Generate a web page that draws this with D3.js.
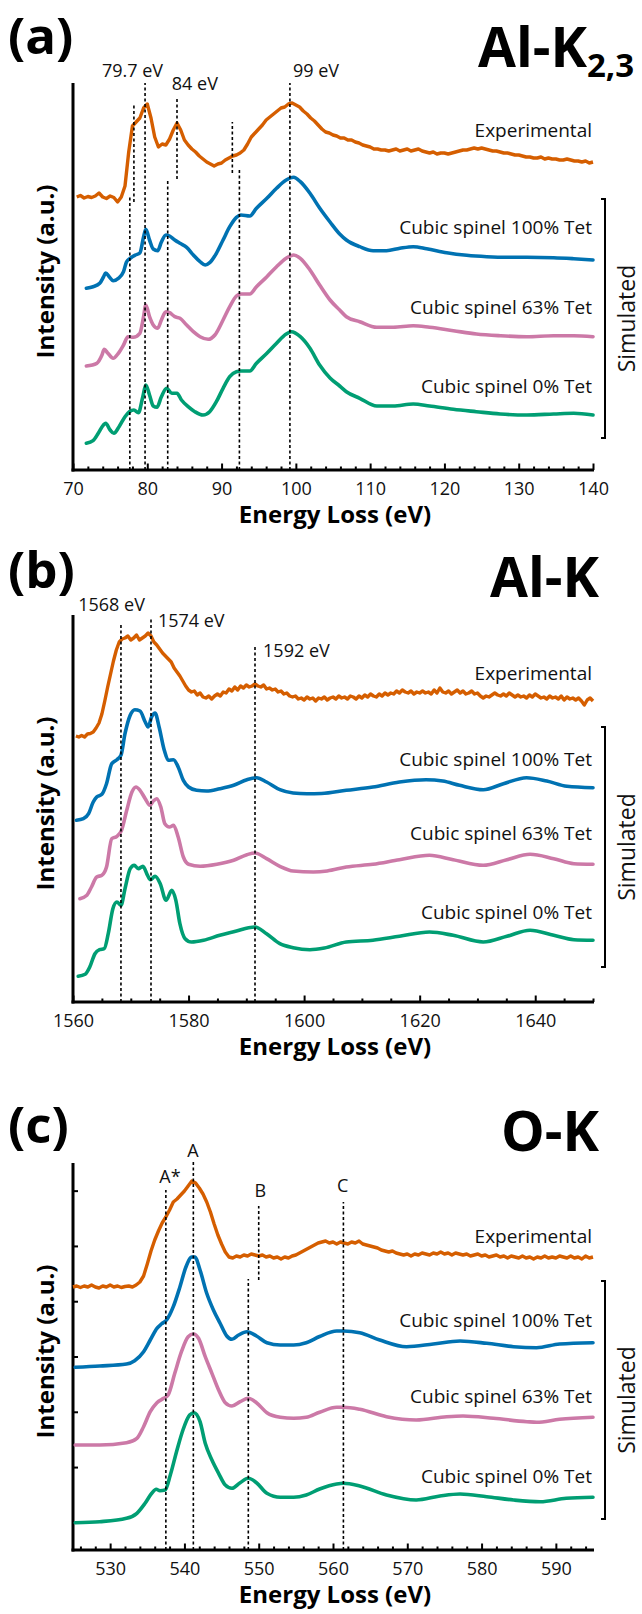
<!DOCTYPE html>
<html>
<head>
<meta charset="utf-8">
<script src="https://cdn.jsdelivr.net/npm/d3@7"></script>
<style>
  body { margin: 0; background: #fff; }
  svg { font-family: "Open Sans", sans-serif; }
</style>
</head>
<body>
<div class="figura"></div>
<script>
const width = 642, height = 1614;
const plotLeft = 73, plotRight = 593, plotH = 387;

const seriesNames = ["Experimental", "Cubic spinel 100% Tet", "Cubic spinel 63% Tet", "Cubic spinel 0% Tet"];
const seriesColors = ["#D55E00", "#0072B2", "#CC79A7", "#009E73"];

// ---------- (a) Al-K2,3 ----------
const aTicks = [70, 80, 90, 100, 110, 120, 130, 140];
const aExpStart = 70.5;
const aExp = [
  273, 274.5, 272, 273.5, 272.5, 274, 277, 273, 271.5, 274,
  272.5, 268, 273, 284, 318, 344, 348, 352, 362, 366,
  352, 333, 323, 326, 325, 331, 340, 347, 340, 330,
  325, 321, 318, 314, 311, 308, 306, 304, 306, 307,
  310, 312, 314, 315, 317, 320, 326, 333, 337, 341,
  345, 350, 353, 356, 359, 362, 363, 366, 367, 365,
  363, 359, 356, 352, 349, 345, 341, 338, 337, 335,
  334, 332, 332, 330, 330, 328, 327, 325, 324, 323,
  321, 321, 320, 320, 319, 320, 321, 319, 320, 321,
  319, 320, 321, 319, 318, 317, 318, 316, 317, 317,
  316, 317, 318, 319, 320, 320, 321, 322, 321, 322,
  321, 320, 319, 319, 318, 317, 317, 316, 315, 315,
  314, 313, 313, 312, 312, 313, 311, 312, 311, 311,
  310, 310, 311, 310, 309, 309, 308, 309, 307, 308
];
const aTet100 = [[71.8,181.7],[72.7,183.3],[73.6,186.7],[74.1,193],[74.4,197],[74.9,193],[75.4,189.3],[76.1,191.7],[76.8,198.3],[77.2,208],[77.7,211.7],[78.4,215],[79.0,217],[79.5,233],[79.8,240.7],[80.3,230],[80.8,221],[81.4,219.3],[81.9,228],[82.5,235],[83.0,234],[83.7,230],[84.4,226.7],[85.3,222.7],[86.2,215],[87.1,208.3],[87.8,205],[88.4,207.3],[89.3,216.7],[90.2,230],[91.1,243.3],[92.0,252.7],[92.6,255],[93.8,254],[94.7,261.7],[96.1,271.7],[97.4,281.7],[98.7,290],[99.7,292.7],[100.6,288.3],[101.9,276.7],[103.2,262],[104.6,248],[105.9,236],[106.8,230],[108.6,223.3],[110.4,219.3],[112.2,219.3],[114.0,221.7],[115.8,223.3],[117.6,221.3],[120.3,217.3],[123.0,214.7],[125.7,213.3],[128.4,212.7],[131.1,212.7],[134.7,212.3],[137.4,211.3],[140,210]];
const aTet63 = [[71.8,104],[73.2,106.7],[73.9,115],[74.2,120.7],[74.7,116.7],[75.4,111.7],[76.1,116.7],[76.8,125],[77.4,133.3],[78.1,132.7],[79.0,136.7],[79.5,153.3],[79.8,165],[80.3,153.3],[80.8,145],[81.4,141.7],[81.9,150],[82.5,158.3],[83.0,157.3],[83.7,153.3],[84.4,151.7],[85.3,145],[86.2,138.3],[87.1,133.3],[88.2,130.7],[89.1,135],[90.2,150],[91.1,163.3],[92.0,174],[92.6,176],[93.8,176],[94.7,183.3],[96.1,193.3],[97.4,203.3],[98.7,211.7],[99.7,215],[100.6,211.7],[101.9,200],[103.2,185],[104.6,170],[105.9,160],[106.8,153.3],[108.6,148.3],[110.9,142.7],[113.1,142.7],[115.8,144.3],[118.0,142.7],[121.2,139.3],[124.3,136],[127.5,134.3],[131.1,133.3],[134.7,134.3],[137.4,134.3],[140,133.3]];
const aTet0 = [[71.8,26.7],[72.7,29.3],[73.4,36.7],[74.1,45],[74.4,46.7],[75.0,40],[75.5,36.7],[76.2,43.3],[77.0,53.3],[77.6,58.3],[78.2,60],[78.8,57.3],[79.4,73.3],[79.8,85],[80.3,75],[80.8,64],[81.3,62.7],[81.9,73.3],[82.6,81.7],[83.3,76.7],[84.0,76.7],[84.6,70],[85.5,63.3],[86.4,58.3],[87.5,55],[88.4,58.3],[89.3,68.3],[90.2,81.7],[91.1,93.3],[92.0,98.3],[92.6,99],[93.8,99],[94.7,106.7],[96.1,116.7],[97.4,126.7],[98.7,136],[99.4,138.3],[100.6,133.3],[101.9,121.7],[103.2,105],[104.6,92],[105.9,84],[106.8,78.3],[108.6,71.7],[110.9,64],[113.1,64],[115.8,66],[118.0,64],[121.2,60.7],[124.3,58.3],[127.5,56],[131.1,55],[134.7,56],[137.4,56.7],[140,55]];
// dashed markers: [energy, from, to]
const aMarks = [[77.65,0,273],[78.2,268,367],[79.7,0,387],[84.0,291,372],[82.75,0,291],[91.45,297,348],[92.4,0,300],[99.2,0,387]];
// notes: [text, energy, level, anchor]
const aNotes = [["79.7 eV",73.9,393,"start"],["84 eV",83.3,380,"start"],["99 eV",99.6,393,"start"]];

// ---------- (b) Al-K ----------
const bTicks = [1560, 1580, 1600, 1620, 1640];
const bExpStart = 1560.5;
const bExp = [
  266, 265, 266.5, 265, 268, 268.5, 270, 274, 279, 288,
  301, 315, 328, 341, 352, 360, 363, 364, 366, 362,
  364, 367, 362, 364, 366, 369, 366, 360, 357, 353,
  349, 346, 343, 340, 334, 330, 326, 321, 316, 312,
  310, 311, 307, 309, 305, 304, 306, 303, 306, 308,
  306, 310, 309, 313, 311, 315, 312, 316, 314, 317,
  315, 316, 318, 316, 315, 317, 313, 314, 312, 313,
  310, 311, 308, 309, 306, 305, 306, 303, 304, 302,
  305, 303, 304, 301, 304, 303, 305, 302, 304, 305,
  303, 306, 304, 305, 303, 306, 305, 303, 306, 304,
  307, 305, 308, 306, 305, 308, 306, 309, 307, 309,
  308, 311, 309, 312, 310, 309, 311, 308, 310, 309,
  311, 309, 310, 308, 312, 309, 314, 310, 309, 311,
  308, 310, 312, 309, 311, 308, 309, 311, 308, 309,
  306, 304, 306, 305, 307, 309, 307, 306, 308, 306,
  309, 307, 305, 307, 305, 306, 304, 307, 305, 308,
  306, 304, 305, 303, 306, 304, 305, 303, 306, 302,
  305, 303, 304, 302, 304, 301, 297, 302, 304, 301
];
const bTet100 = [[1560.6,181.7],[1561.8,183.3],[1562.7,188.3],[1563.5,200],[1564.1,205],[1565.0,207.7],[1565.8,218.3],[1566.7,238.3],[1567.6,242.3],[1568.3,246.7],[1569.0,268.3],[1569.9,286.7],[1570.7,292.3],[1571.6,291],[1572.5,280],[1573.0,275],[1573.6,285],[1574.2,289],[1574.9,275],[1575.8,251.7],[1576.5,241.7],[1577.4,242.3],[1578.2,235],[1579.1,221.7],[1580.0,215],[1581.4,211.7],[1583.1,211],[1585.4,213.3],[1587.8,216.7],[1590.1,222.3],[1591.8,224.3],[1593.5,220],[1595.8,212.3],[1598.1,209],[1600.5,208.3],[1603.0,208.5],[1607.3,211.7],[1611.9,215],[1616.5,220],[1621.1,222.3],[1624.0,221],[1626.9,216.7],[1631.0,212.3],[1634.5,218.3],[1638.5,224.3],[1642.0,221],[1645.5,215.7],[1650,214.3]];
const bTet63 = [[1561.2,103.3],[1562.4,106.7],[1563.2,115],[1564.1,125],[1565.0,126.7],[1565.8,135],[1566.7,163.3],[1567.6,165.7],[1568.4,171.7],[1569.3,191.7],[1570.2,210],[1570.9,215],[1571.6,211.7],[1572.5,203.3],[1573.3,196.7],[1573.9,201],[1574.5,203.3],[1575.2,195],[1575.9,178.3],[1576.7,175],[1577.4,176.7],[1578.2,165],[1579.1,145],[1580.0,137.7],[1582.0,135.7],[1584.9,137.7],[1587.8,141.7],[1590.1,147.3],[1591.5,149],[1593.5,143.3],[1595.8,135.7],[1598.1,131],[1601.6,130],[1604,131],[1607.3,135],[1611.9,137.7],[1616.5,142.3],[1621.7,146.7],[1625.8,142.3],[1631.0,136.7],[1635.1,142.3],[1639.1,147.7],[1643.2,143.3],[1646.7,138.3],[1650,137.7]];
const bTet0 = [[1560.9,25.7],[1562.1,27.7],[1562.9,35],[1563.8,48.3],[1564.6,52.3],[1565.4,53.3],[1566.1,68.3],[1566.9,93.3],[1567.6,100],[1568.3,96.7],[1569.0,113.3],[1569.9,133.3],[1570.6,136.7],[1571.3,133.3],[1572.1,135.7],[1572.9,126.7],[1573.4,122.3],[1574.2,125.7],[1575.1,118.3],[1576.1,101.7],[1577.1,111.7],[1577.8,101.7],[1578.5,78.3],[1579.4,63.3],[1580.5,60],[1582.6,61.7],[1585.4,66.7],[1588.3,71],[1590.4,74.3],[1591.5,75],[1593.5,68.3],[1595.8,58.3],[1598.1,54.3],[1601.0,52.3],[1603.5,54],[1607.3,60],[1611.9,61.7],[1616.5,65.7],[1621.7,70],[1625.8,66.7],[1631.0,60],[1635.1,65.7],[1639.1,71.7],[1643.2,66.7],[1646.7,62.3],[1650,61.7]];
const bMarks = [[1568.3,0,379],[1573.5,0,385],[1591.5,0,357]];
const bNotes = [["1568 eV",1560.9,391,"start"],["1574 eV",1574.7,375,"start"],["1592 eV",1592.9,345,"start"]];

// ---------- (c) O-K ----------
const cTicks = [530, 540, 550, 560, 570, 580, 590];
const cExpStart = 525;
const cExp = [
  263, 264, 262.5, 264, 263, 265, 263, 262, 264, 263,
  265, 263, 264, 262.5, 263.5, 264, 263, 265, 268, 274,
  286, 299, 310, 319, 327, 333, 340, 348, 351, 355,
  359, 364, 369, 367, 362, 356, 348, 338, 326, 315,
  306, 298, 293, 292, 294, 293, 295, 294, 296, 295,
  294, 295, 293, 294, 292, 293, 291, 293, 292, 294,
  295, 297, 299, 301, 303, 305, 307, 308, 309, 307,
  308, 306, 308, 307, 306, 308, 307, 309, 306, 305,
  304, 303, 302, 300, 299, 298, 299, 297, 296, 295,
  296, 294, 296, 295, 297, 296, 295, 297, 296, 298,
  296, 297, 295, 297, 296, 295, 296, 294, 295, 296,
  294, 295, 293, 294, 295, 293, 294, 292, 294, 293,
  292, 294, 292, 293, 291, 293, 292, 294, 292, 293,
  292, 294, 293, 292, 294, 292, 293, 291, 294, 292,
  293
];
const cTet100 = [[525.3,182.7],[528.6,184],[532.2,186],[533.3,189.3],[534.5,198.3],[535.4,210],[536.3,221.7],[536.9,226],[537.6,230],[538.5,243.3],[539.4,263.3],[540.2,283],[541.0,293],[541.4,293],[542.1,280],[543.0,256.7],[543.9,240],[544.8,226.7],[545.7,214],[546.4,210.7],[547.3,215],[548.4,218.3],[549.7,214],[551.1,207.3],[552.9,205],[554.7,205],[556.4,207.3],[558.2,213.5],[560.5,219],[561.4,219],[563.6,217.3],[566.3,210],[569.9,203.3],[573.5,206],[577.1,209],[580.7,206.7],[584.3,203.3],[587.4,202.3],[590.5,206],[595,207.3]];
const cTet63 = [[525.3,105],[528.6,105],[532.2,107.3],[533.6,111.7],[534.5,123.3],[535.4,138.3],[536.3,147.3],[537.2,151.7],[537.8,155],[538.7,176.7],[539.6,198.3],[540.5,213.3],[541.2,216],[541.9,211.7],[542.8,193.3],[543.7,176.7],[544.6,160],[545.5,147.3],[546.4,144],[547.5,148.3],[548.6,151.7],[549.7,147.3],[551.1,137.3],[552.9,132.7],[554.7,131.7],[556.4,132.7],[558.2,137.8],[560.5,142.7],[561.4,142.7],[563.6,140.7],[567.2,133.3],[571.2,130],[575.3,133.3],[577.5,134],[581.6,131.7],[586.1,128.3],[587.4,127.7],[590.5,130.7],[595,132.7]];
const cTet0 = [[525.3,27.3],[528.6,28.3],[532.2,31.7],[533.6,36.7],[534.7,46.7],[535.6,56.7],[536.2,60.7],[536.7,59.3],[537.4,60],[538.1,75],[539.0,100],[539.8,120],[540.7,135],[541.3,137.3],[542.1,128.3],[542.8,106.7],[543.7,90],[544.6,76.7],[545.5,65],[546.4,61.7],[547.5,67.3],[548.6,71.7],[549.7,67.3],[551.1,56.7],[552.9,52.7],[554.7,52.7],[556.4,55],[558.2,61],[560.5,66],[561.4,66.7],[563.6,64],[567.2,55],[571.2,50],[574.4,54],[577.1,56],[580.7,53.3],[584.3,50],[587.9,48.3],[591.4,51.7],[595,52.7]];
const cMarks = [[537.5,0,360],[541.2,0,388],[550.0,270,344],[548.6,0,271],[561.4,0,348]];
const cNotes = [["A*",538.05,367,"middle"],["A",541.15,393,"middle"],["B",550.2,353,"middle"],["C",561.3,358,"middle"]];
const cLevelTicks = [0.5, 1.5, 2.5, 3.5, 4.5, 5.5, 6.5];

// layout per panel
const panels = [
  { tag: "(a)", tagY: 54, title: "Al-K", sub: "2,3", titleX: 478, titleAnchor: "start", titleY: 67,
    top: 83, domain: [70, 140], major: aTicks, minor: d3.range(72, 140, 2),
    expStart: aExpStart, exp: aExp, sims: [aTet100, aTet63, aTet0], marks: aMarks, notes: aNotes,
    labelLevels: [333, 236, 156, 77], bracket: [271, 32], levelTicks: null },
  { tag: "(b)", tagY: 588, title: "Al-K", sub: null, titleX: 599, titleAnchor: "end", titleY: 597,
    top: 615, domain: [1560, 1650], major: bTicks, minor: d3.range(1565, 1651, 5),
    expStart: bExpStart, exp: bExp, sims: [bTet100, bTet63, bTet0], marks: bMarks, notes: bNotes,
    labelLevels: [322, 236, 162, 83], bracket: [275, 35], levelTicks: null },
  { tag: "(c)", tagY: 1143, title: "O-K", sub: null, titleX: 599, titleAnchor: "end", titleY: 1151,
    top: 1163, domain: [525, 595], major: cTicks, minor: d3.range(526, 595, 2),
    expStart: cExpStart, exp: cExp, sims: [cTet100, cTet63, cTet0], marks: cMarks, notes: cNotes,
    labelLevels: [307, 223, 147, 67], bracket: [269, 31], levelTicks: cLevelTicks }
];

const svg = d3.select(".figura")
  .append("svg")
  .attr("width", width)
  .attr("height", height)
  .style("background", "#fff");

function drawPanel(p) {
  const bottom = p.top + plotH;
  const x = d3.scaleLinear().domain(p.domain).range([plotLeft, plotRight]);
  const y = d3.scaleLinear().domain([0, plotH]).range([bottom, p.top]);
  const g = svg.append("g");

  // minor + major ticks, pointing inward
  g.append("g")
    .attr("transform", `translate(0,${bottom})`)
    .call(d3.axisBottom(x).tickValues(p.minor.filter(v => !p.major.includes(v))).tickSize(-3.5).tickFormat(""))
    .call(a => a.select(".domain").remove())
    .selectAll("line").attr("stroke-width", 2);

  const ax = g.append("g")
    .attr("transform", `translate(0,${bottom})`)
    .call(d3.axisBottom(x).tickValues(p.major).tickSize(-6.5).tickPadding(12).tickFormat(d3.format("d")));
  ax.select(".domain").remove();
  ax.selectAll("line").attr("stroke-width", 2);
  ax.selectAll("text")
    .attr("font-family", "'Open Sans', sans-serif")
    .attr("font-size", 18)
    .attr("fill", "#111");

  if (p.levelTicks) {
    const yk = d3.scaleLinear().domain([0, 7]).range([bottom, p.top]);
    g.append("g")
      .attr("transform", `translate(${plotLeft},0)`)
      .call(d3.axisLeft(yk).tickValues(p.levelTicks).tickSize(-5).tickFormat(""))
      .call(a => a.select(".domain").remove())
      .selectAll("line").attr("stroke-width", 2);
  }

  // axis lines
  g.append("line")
    .attr("x1", plotLeft).attr("x2", plotLeft)
    .attr("y1", p.top).attr("y2", bottom + 1.5)
    .attr("stroke", "#000").attr("stroke-width", 3);
  g.append("line")
    .attr("x1", plotLeft - 1.5).attr("x2", plotRight + 1)
    .attr("y1", bottom).attr("y2", bottom)
    .attr("stroke", "#000").attr("stroke-width", 3);

  // spectra
  const expLine = d3.line()
    .x((d, i) => x(p.expStart + i * 0.5))
    .y(d => y(d));
  g.append("path")
    .attr("d", expLine(p.exp))
    .attr("fill", "none")
    .attr("stroke", seriesColors[0])
    .attr("stroke-width", 3.4)
    .attr("stroke-linejoin", "round");

  const simLine = d3.line()
    .x(d => x(d[0]))
    .y(d => y(d[1]))
    .curve(d3.curveMonotoneX);
  p.sims.forEach((s, i) => {
    g.append("path")
      .attr("d", simLine(s))
      .attr("fill", "none")
      .attr("stroke", seriesColors[i + 1])
      .attr("stroke-width", 3.6)
      .attr("stroke-linejoin", "round")
      .attr("stroke-linecap", "round");
  });

  // dashed markers
  g.selectAll(".mark")
    .data(p.marks)
    .enter().append("line")
    .attr("x1", d => x(d[0])).attr("x2", d => x(d[0]))
    .attr("y1", d => y(d[1])).attr("y2", d => y(d[2]))
    .attr("stroke", "#000")
    .attr("stroke-width", 1.6)
    .attr("stroke-dasharray", "3,2.5");

  g.selectAll(".note")
    .data(p.notes)
    .enter().append("text")
    .attr("x", d => x(d[1]))
    .attr("y", d => y(d[2]))
    .attr("text-anchor", d => d[3])
    .attr("font-size", 18)
    .attr("fill", "#111")
    .text(d => d[0]);

  // series labels
  g.selectAll(".lab")
    .data(seriesNames)
    .enter().append("text")
    .attr("x", 592)
    .attr("y", (d, i) => y(p.labelLevels[i]))
    .attr("text-anchor", "end")
    .attr("font-size", 19)
    .attr("fill", "#111")
    .text(d => d);

  // bracket for simulated spectra
  const bt = y(p.bracket[0]), bb = y(p.bracket[1]);
  g.append("path")
    .attr("d", `M601,${bt}H605V${bb}H601`)
    .attr("fill", "none")
    .attr("stroke", "#000")
    .attr("stroke-width", 2);
  g.append("text")
    .attr("transform", `translate(635,${(bt + bb) / 2}) rotate(-90)`)
    .attr("text-anchor", "middle")
    .attr("font-size", 23)
    .attr("fill", "#111")
    .text("Simulated");

  // axis titles
  g.append("text")
    .attr("x", 335).attr("y", bottom + 53)
    .attr("text-anchor", "middle")
    .attr("font-size", 24).attr("font-weight", 700)
    .text("Energy Loss (eV)");
  g.append("text")
    .attr("transform", `translate(54,${(p.top + bottom) / 2 - 5}) rotate(-90)`)
    .attr("text-anchor", "middle")
    .attr("font-size", 24).attr("font-weight", 700)
    .text("Intensity (a.u.)");

  // panel tag and edge name
  g.append("text")
    .attr("x", 8).attr("y", p.tagY)
    .attr("font-size", 51).attr("font-weight", 700)
    .text(p.tag);
  const t = g.append("text")
    .attr("x", p.titleX).attr("y", p.titleY)
    .attr("text-anchor", p.titleAnchor)
    .attr("font-size", 55).attr("font-weight", 700);
  t.append("tspan").text(p.title);
  if (p.sub) t.append("tspan").attr("font-size", 33).attr("dy", 10).text(p.sub);
}

panels.forEach(drawPanel);
</script>
</body>
</html>
